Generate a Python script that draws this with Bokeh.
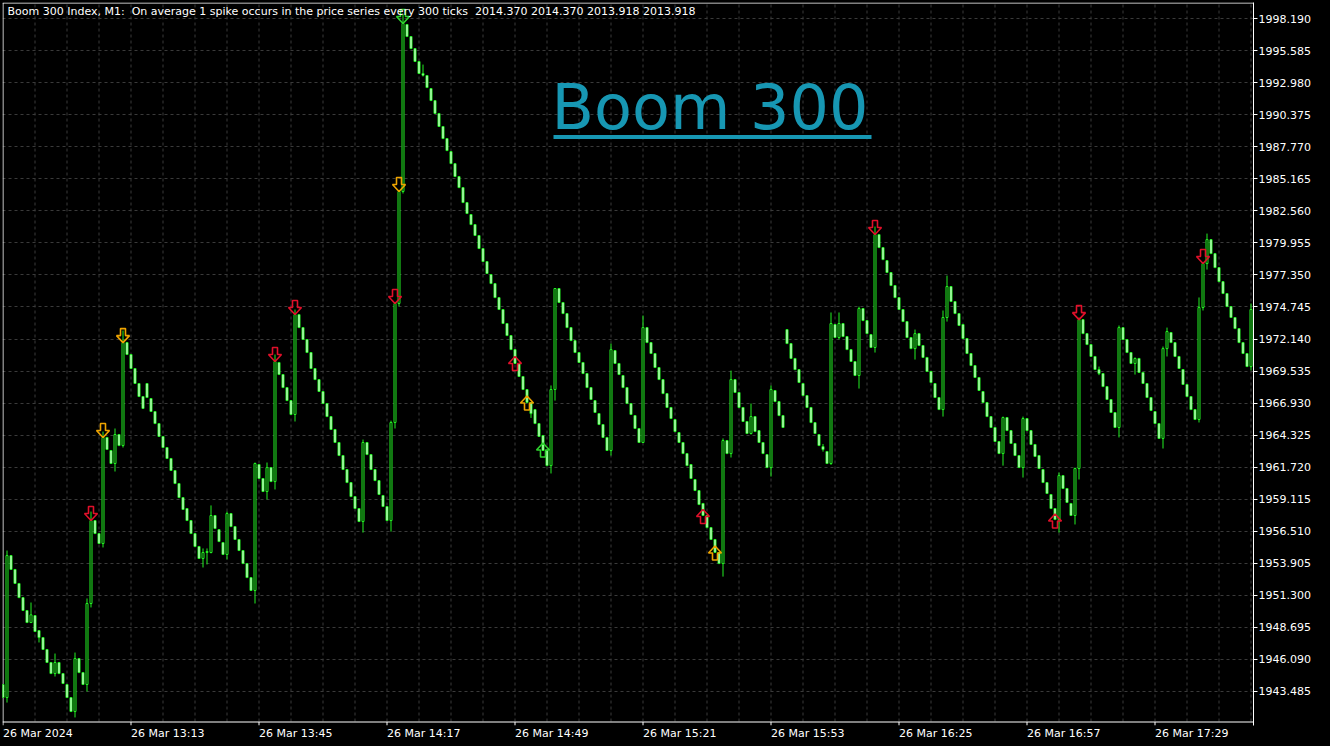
import numpy as np
from bokeh.plotting import figure
from bokeh.models import (Range1d, FixedTicker, Label, BoxAnnotation, ColumnDataSource,
                          PrintfTickFormatter, CustomJSTickFormatter)
from bokeh.embed import file_html
from bokeh.resources import INLINE

# ---------------- data (M1 candles, first one partly off-screen) ----------------
open_ = [
    1944.03, 1942.97, 1954.52, 1953.39, 1952.25, 1951.10, 1950.05, 1949.07, 1949.64, 1948.42,
    1947.85, 1946.88, 1945.82, 1944.92, 1945.82, 1944.92, 1944.03, 1942.97, 1941.83, 1946.14,
    1945.00, 1944.03, 1950.62, 1957.37, 1956.31, 1955.50, 1964.13, 1963.07, 1962.01, 1964.37,
    1963.47, 1971.85, 1970.88, 1969.74, 1968.52, 1967.46, 1968.52, 1967.30, 1966.24, 1965.26,
    1964.21, 1963.31, 1962.42, 1961.44, 1960.38, 1959.24, 1958.35, 1957.37, 1956.31, 1955.26,
    1954.28, 1954.77, 1954.77, 1957.78, 1956.63, 1955.58, 1954.61, 1957.94, 1956.88, 1955.83,
    1954.93, 1953.87, 1952.73, 1951.68, 1961.93, 1960.79, 1959.73, 1961.68, 1960.54, 1970.23,
    1969.25, 1968.19, 1967.13, 1966.00, 1974.13, 1973.07, 1972.10, 1971.04, 1969.74, 1968.84,
    1967.87, 1966.89, 1965.83, 1964.78, 1963.72, 1962.66, 1961.52, 1960.46, 1959.32, 1958.35,
    1957.29, 1963.72, 1962.74, 1961.52, 1960.62, 1959.41, 1958.51, 1957.37, 1965.35, 1975.03,
    1984.14, 1997.73, 1996.75, 1995.77, 1994.72, 1993.74, 1993.58, 1992.52, 1991.54, 1990.49,
    1989.43, 1988.45, 1987.39, 1986.41, 1985.36, 1984.46, 1983.24, 1982.27, 1981.45, 1980.56,
    1979.50, 1978.44, 1977.39, 1976.65, 1975.51, 1974.54, 1973.40, 1972.42, 1971.28, 1970.15,
    1969.09, 1968.03, 1966.97, 1966.40, 1965.26, 1964.29, 1963.07, 1961.84, 1968.03, 1976.25,
    1975.11, 1974.21, 1973.07, 1972.01, 1971.04, 1970.23, 1969.33, 1968.19, 1967.13, 1966.08,
    1965.18, 1964.13, 1963.07, 1971.20, 1970.15, 1969.17, 1968.19, 1966.89, 1965.91, 1964.86,
    1963.72, 1973.07, 1971.85, 1970.96, 1969.82, 1968.84, 1967.70, 1966.57, 1965.59, 1964.53,
    1963.72, 1962.82, 1961.93, 1960.71, 1959.81, 1958.76, 1957.78, 1956.80, 1955.83, 1954.77,
    1953.87, 1963.88, 1962.82, 1968.84, 1967.79, 1966.57, 1965.43, 1964.45, 1965.83, 1964.69,
    1963.72, 1962.74, 1961.68, 1967.95, 1967.05, 1965.91, 1972.91, 1971.77, 1970.56, 1969.65,
    1968.52, 1967.54, 1966.57, 1965.34, 1964.37, 1963.39, 1962.99, 1962.01, 1973.32, 1972.26,
    1973.40, 1972.34, 1971.28, 1970.31, 1969.17, 1974.62, 1973.64, 1972.50, 1971.45, 1980.64,
    1979.58, 1978.52, 1977.55, 1976.49, 1975.51, 1974.54, 1973.56, 1972.26, 1971.36, 1972.58,
    1971.61, 1970.64, 1969.50, 1968.52, 1967.38, 1966.40, 1973.89, 1976.41, 1975.19, 1974.21,
    1973.32, 1972.18, 1970.96, 1969.98, 1969.01, 1967.87, 1966.97, 1965.83, 1964.94, 1963.80,
    1962.82, 1965.75, 1964.69, 1963.64, 1962.66, 1961.68, 1965.67, 1964.69, 1963.56, 1962.66,
    1961.52, 1960.46, 1959.49, 1958.35, 1957.45, 1961.03, 1959.98, 1958.76, 1957.78, 1961.60,
    1973.72, 1972.58, 1971.69, 1970.72, 1969.66, 1969.33, 1968.27, 1967.22, 1966.16, 1964.94,
    1973.07, 1972.10, 1971.04, 1970.15, 1970.56, 1969.42, 1968.52, 1967.38, 1966.24, 1965.26,
    1964.05, 1971.36, 1972.67, 1971.85, 1970.72, 1969.66, 1968.44, 1967.46, 1966.40, 1965.59,
    1974.70, 1978.28, 1980.23, 1979.09, 1977.95, 1976.81, 1975.84, 1974.78, 1973.89, 1972.99,
    1971.85, 1970.96, 1969.90,
]
close_ = [
    1942.97, 1954.52, 1953.39, 1952.25, 1951.10, 1950.05, 1949.07, 1949.70, 1948.34, 1947.85,
    1946.88, 1945.82, 1944.92, 1945.82, 1944.92, 1944.11, 1942.97, 1941.83, 1946.14, 1945.00,
    1944.03, 1950.62, 1957.37, 1956.31, 1955.50, 1964.13, 1963.15, 1962.01, 1964.37, 1963.47,
    1971.85, 1970.88, 1969.74, 1968.52, 1967.46, 1966.49, 1967.38, 1966.24, 1965.26, 1964.21,
    1963.31, 1962.42, 1961.44, 1960.38, 1959.24, 1958.27, 1957.37, 1956.31, 1955.26, 1954.28,
    1954.77, 1954.85, 1957.78, 1956.72, 1955.66, 1954.61, 1957.94, 1956.88, 1955.83, 1954.93,
    1953.87, 1952.73, 1951.68, 1962.01, 1960.79, 1959.73, 1961.68, 1960.54, 1970.31, 1969.25,
    1968.19, 1967.13, 1966.00, 1974.13, 1973.07, 1972.10, 1971.04, 1969.74, 1968.84, 1967.87,
    1966.89, 1965.83, 1964.78, 1963.72, 1962.66, 1961.52, 1960.46, 1959.32, 1958.35, 1957.29,
    1963.72, 1962.74, 1961.52, 1960.62, 1959.49, 1958.51, 1957.37, 1965.35, 1975.03, 1984.14,
    1997.81, 1996.75, 1995.77, 1994.72, 1993.74, 1993.60, 1992.60, 1991.54, 1990.49, 1989.43,
    1988.45, 1987.47, 1986.41, 1985.36, 1984.46, 1983.24, 1982.35, 1981.45, 1980.56, 1979.50,
    1978.44, 1977.47, 1976.65, 1975.51, 1974.54, 1973.40, 1972.42, 1971.28, 1970.15, 1969.09,
    1968.03, 1966.97, 1966.07, 1965.26, 1964.21, 1963.07, 1961.84, 1968.03, 1976.25, 1975.11,
    1974.21, 1973.07, 1972.01, 1971.04, 1970.23, 1969.33, 1968.19, 1967.22, 1966.16, 1965.18,
    1964.13, 1963.07, 1971.28, 1970.15, 1969.25, 1968.19, 1966.89, 1966.00, 1964.86, 1963.72,
    1973.07, 1971.85, 1970.96, 1969.82, 1968.84, 1967.70, 1966.57, 1965.67, 1964.61, 1963.72,
    1962.82, 1961.84, 1960.79, 1959.81, 1958.67, 1957.78, 1956.80, 1955.83, 1954.77, 1953.87,
    1963.88, 1962.82, 1968.84, 1967.79, 1966.57, 1965.43, 1964.45, 1965.83, 1964.61, 1963.72,
    1962.82, 1961.68, 1968.03, 1967.05, 1965.91, 1964.94, 1971.77, 1970.56, 1969.65, 1968.60,
    1967.54, 1966.57, 1965.34, 1964.45, 1963.47, 1963.15, 1962.01, 1973.40, 1972.26, 1973.40,
    1972.34, 1971.28, 1970.31, 1969.17, 1974.62, 1973.64, 1972.58, 1971.45, 1980.64, 1979.58,
    1978.60, 1977.55, 1976.49, 1975.51, 1974.54, 1973.56, 1972.26, 1971.36, 1972.58, 1971.61,
    1970.64, 1969.50, 1968.60, 1967.38, 1966.40, 1973.89, 1976.41, 1975.19, 1974.21, 1973.24,
    1972.18, 1970.96, 1969.98, 1969.01, 1967.95, 1966.97, 1965.83, 1964.94, 1963.80, 1962.82,
    1965.75, 1964.69, 1963.64, 1962.66, 1961.68, 1965.67, 1964.69, 1963.56, 1962.58, 1961.60,
    1960.46, 1959.57, 1958.35, 1957.45, 1961.03, 1959.98, 1958.84, 1957.78, 1961.60, 1973.72,
    1972.58, 1971.69, 1970.72, 1969.66, 1969.33, 1968.27, 1967.22, 1966.16, 1964.94, 1973.07,
    1972.10, 1971.04, 1970.15, 1970.56, 1969.42, 1968.52, 1967.38, 1966.32, 1965.26, 1964.05,
    1971.36, 1972.75, 1971.85, 1970.72, 1969.74, 1968.44, 1967.46, 1966.40, 1965.59, 1974.70,
    1978.28, 1980.23, 1979.09, 1977.95, 1976.81, 1975.84, 1974.78, 1973.89, 1972.99, 1971.85,
    1970.96, 1969.90, 1974.54,
]
high_ = [
    1944.03, 1954.93, 1954.52, 1953.39, 1952.25, 1951.10, 1950.05, 1950.70, 1949.64, 1948.42,
    1947.85, 1946.88, 1945.82, 1946.55, 1945.82, 1944.92, 1944.03, 1942.97, 1946.63, 1946.14,
    1945.00, 1951.03, 1958.10, 1957.37, 1956.31, 1964.61, 1964.13, 1963.07, 1964.86, 1964.37,
    1972.83, 1971.85, 1970.88, 1969.74, 1968.52, 1967.46, 1968.52, 1967.30, 1966.24, 1965.26,
    1964.21, 1963.31, 1962.42, 1961.44, 1960.38, 1959.24, 1958.35, 1957.37, 1956.31, 1955.26,
    1955.10, 1955.10, 1958.60, 1957.78, 1956.63, 1955.58, 1958.10, 1957.94, 1956.88, 1955.83,
    1954.93, 1953.87, 1952.73, 1962.09, 1961.93, 1960.79, 1962.09, 1961.68, 1970.88, 1970.23,
    1969.25, 1968.19, 1967.13, 1974.54, 1974.13, 1973.07, 1972.10, 1971.04, 1969.74, 1968.84,
    1967.87, 1966.89, 1965.83, 1964.78, 1963.72, 1962.66, 1961.52, 1960.46, 1959.32, 1958.35,
    1963.96, 1963.72, 1962.74, 1961.52, 1960.62, 1959.41, 1958.51, 1965.50, 1975.03, 1984.14,
    1998.60, 1997.73, 1996.75, 1995.77, 1994.72, 1994.47, 1993.58, 1992.52, 1991.54, 1990.49,
    1989.43, 1988.45, 1987.39, 1986.41, 1985.36, 1984.46, 1983.24, 1982.27, 1981.45, 1980.56,
    1979.50, 1978.44, 1977.39, 1976.65, 1975.51, 1974.54, 1973.40, 1972.42, 1971.28, 1970.15,
    1969.09, 1968.03, 1966.97, 1966.40, 1965.26, 1964.29, 1963.07, 1968.36, 1976.25, 1976.25,
    1975.11, 1974.21, 1973.07, 1972.01, 1971.04, 1970.23, 1969.33, 1968.19, 1967.13, 1966.08,
    1965.18, 1964.13, 1971.77, 1971.20, 1970.15, 1969.17, 1968.19, 1966.89, 1965.91, 1964.86,
    1974.05, 1973.07, 1971.85, 1970.96, 1969.82, 1968.84, 1967.70, 1966.57, 1965.59, 1964.53,
    1963.72, 1962.82, 1961.93, 1960.71, 1959.81, 1958.76, 1957.78, 1956.80, 1955.83, 1954.77,
    1964.05, 1963.88, 1969.57, 1968.84, 1967.79, 1966.57, 1965.43, 1966.89, 1965.83, 1964.69,
    1963.72, 1962.74, 1968.36, 1967.95, 1967.05, 1965.91, 1972.91, 1971.77, 1970.56, 1969.65,
    1968.52, 1967.54, 1966.57, 1965.34, 1964.37, 1963.60, 1962.99, 1974.30, 1973.32, 1974.30,
    1973.40, 1972.34, 1971.28, 1970.31, 1974.78, 1974.62, 1973.64, 1972.50, 1981.29, 1980.64,
    1979.58, 1978.52, 1977.55, 1976.49, 1975.51, 1974.54, 1973.56, 1972.26, 1972.91, 1972.58,
    1971.61, 1970.64, 1969.50, 1968.52, 1967.38, 1974.46, 1977.30, 1976.41, 1975.19, 1974.21,
    1973.32, 1972.18, 1970.96, 1969.98, 1969.01, 1967.87, 1966.97, 1965.83, 1964.94, 1963.80,
    1965.83, 1965.75, 1964.69, 1963.64, 1962.66, 1965.83, 1965.67, 1964.69, 1963.56, 1962.66,
    1961.52, 1960.46, 1959.49, 1958.35, 1961.28, 1961.03, 1959.98, 1958.76, 1961.68, 1973.89,
    1973.72, 1972.58, 1971.69, 1970.72, 1969.90, 1969.33, 1968.27, 1967.22, 1966.16, 1973.24,
    1973.07, 1972.10, 1971.04, 1970.64, 1970.56, 1969.42, 1968.52, 1967.38, 1966.24, 1965.26,
    1971.53, 1973.07, 1972.67, 1971.85, 1970.72, 1969.66, 1968.44, 1967.46, 1966.40, 1975.52,
    1978.28, 1980.72, 1980.23, 1979.09, 1977.95, 1976.81, 1975.84, 1974.78, 1973.89, 1972.99,
    1971.85, 1970.96, 1975.03,
]
low_ = [
    1942.97, 1942.56, 1953.39, 1952.25, 1951.10, 1950.05, 1949.07, 1949.07, 1948.34, 1947.45,
    1946.88, 1945.82, 1944.92, 1944.68, 1944.92, 1944.11, 1942.97, 1941.83, 1941.35, 1945.00,
    1944.03, 1943.46, 1950.30, 1956.31, 1955.50, 1955.18, 1963.15, 1962.01, 1961.36, 1963.47,
    1963.31, 1970.88, 1969.74, 1968.52, 1967.46, 1966.49, 1967.38, 1966.24, 1965.26, 1964.21,
    1963.31, 1962.42, 1961.44, 1960.38, 1959.24, 1958.27, 1957.37, 1956.31, 1955.26, 1954.28,
    1953.55, 1953.80, 1954.70, 1956.72, 1955.66, 1954.61, 1954.20, 1956.88, 1955.83, 1954.93,
    1953.87, 1952.73, 1951.68, 1950.62, 1960.79, 1959.73, 1959.08, 1960.54, 1959.90, 1969.25,
    1968.19, 1967.13, 1966.00, 1965.43, 1973.07, 1972.10, 1971.04, 1969.74, 1968.84, 1967.87,
    1966.89, 1965.83, 1964.78, 1963.72, 1962.66, 1961.52, 1960.46, 1959.32, 1958.35, 1957.29,
    1956.39, 1962.74, 1961.52, 1960.62, 1959.49, 1958.51, 1957.37, 1956.47, 1964.86, 1974.80,
    1983.98, 1996.75, 1995.77, 1994.72, 1993.74, 1993.50, 1992.60, 1991.54, 1990.49, 1989.43,
    1988.45, 1987.47, 1986.41, 1985.36, 1984.46, 1983.24, 1982.35, 1981.45, 1980.56, 1979.50,
    1978.44, 1977.47, 1976.65, 1975.51, 1974.54, 1973.40, 1972.42, 1971.28, 1970.15, 1969.09,
    1968.03, 1966.97, 1965.72, 1965.26, 1964.21, 1963.07, 1961.84, 1961.20, 1967.13, 1975.11,
    1974.21, 1973.07, 1972.01, 1971.04, 1970.23, 1969.33, 1968.19, 1967.22, 1966.16, 1965.18,
    1964.13, 1963.07, 1962.66, 1970.15, 1969.25, 1968.19, 1966.89, 1966.00, 1964.86, 1963.72,
    1963.72, 1971.85, 1970.96, 1969.82, 1968.84, 1967.70, 1966.57, 1965.67, 1964.61, 1963.72,
    1962.82, 1961.84, 1960.79, 1959.81, 1958.67, 1957.78, 1956.80, 1955.83, 1954.77, 1953.87,
    1952.81, 1962.82, 1962.50, 1967.79, 1966.57, 1965.43, 1964.45, 1964.37, 1964.61, 1963.72,
    1962.82, 1961.68, 1960.95, 1967.05, 1965.91, 1964.94, 1971.77, 1970.56, 1969.65, 1968.60,
    1967.54, 1966.57, 1965.34, 1964.45, 1963.47, 1962.98, 1962.01, 1961.90, 1972.26, 1972.10,
    1972.34, 1971.28, 1970.31, 1969.17, 1968.11, 1973.64, 1972.58, 1971.45, 1971.04, 1979.58,
    1978.60, 1977.55, 1976.49, 1975.51, 1974.54, 1973.56, 1972.26, 1971.36, 1970.47, 1971.61,
    1970.64, 1969.50, 1968.60, 1967.38, 1966.40, 1965.83, 1973.56, 1975.19, 1974.21, 1973.24,
    1972.18, 1970.96, 1969.98, 1969.01, 1967.95, 1966.97, 1965.83, 1964.94, 1963.80, 1962.82,
    1961.84, 1964.69, 1963.64, 1962.66, 1961.68, 1960.87, 1964.69, 1963.56, 1962.58, 1961.60,
    1960.46, 1959.57, 1958.35, 1957.45, 1956.39, 1959.98, 1958.84, 1957.78, 1957.05, 1960.71,
    1972.58, 1971.69, 1970.72, 1969.66, 1969.20, 1968.27, 1967.22, 1966.16, 1964.94, 1964.13,
    1972.10, 1971.04, 1970.15, 1969.25, 1969.42, 1968.52, 1967.38, 1966.32, 1965.26, 1964.05,
    1963.23, 1970.72, 1971.85, 1970.72, 1969.74, 1968.44, 1967.46, 1966.40, 1965.59, 1965.35,
    1974.46, 1977.79, 1979.09, 1977.95, 1976.81, 1975.84, 1974.78, 1973.89, 1972.99, 1971.85,
    1970.96, 1969.90, 1969.58,
]

xtick_idx = [-1, 31, 63, 95, 127, 159, 191, 223, 255, 287]
xtick_labels = ["26 Mar 2024", "26 Mar 13:13", "26 Mar 13:45", "26 Mar 14:17", "26 Mar 14:49",
                "26 Mar 15:21", "26 Mar 15:53", "26 Mar 16:25", "26 Mar 16:57", "26 Mar 17:29"]
yticks = [1943.485, 1946.090, 1948.695, 1951.300, 1953.905, 1956.510, 1959.115, 1961.720,
          1964.325, 1966.930, 1969.535, 1972.140, 1974.745, 1977.350, 1979.955, 1982.560,
          1985.165, 1987.770, 1990.375, 1992.980, 1995.585, 1998.190]

down_arrow_idx = [21, 24, 29, 67, 72, 97, 98, 99, 217, 268, 299]
down_arrow_kind = ["red", "orange", "orange", "red", "red", "red", "orange", "green", "red", "red", "red"]
up_arrow_idx = [127, 130, 134, 174, 177, 262]
up_arrow_kind = ["red", "orange", "green", "red", "orange", "red"]

header_text = ("Boom 300 Index, M1:\u00a0 On average 1 spike occurs in the price series every 300 ticks\u00a0 "
               "2014.370 2014.370 2013.918 2013.918")
big_text = "Boom 300"

# ---------------- styling ----------------
W, H = 1330, 746
FL, FT, FR = 2, 2, 1253        # frame edges in px
AXY = 721                      # px row of the time axis line
FB = 725                       # frame bottom (tick marks live between AXY and FB)
X0, X1 = -1.125, 311.625
Y1 = 1999.52
sy = 58.5 / 719                # price per px
Y0 = Y1 - (FB - FT) * sy
GREEN = "#22f022"
GRID = "#3a3a3a"
ARROW_COL = {"red": "#e0102a", "orange": "#eea400", "green": "#2ed22e"}
FONT = "DejaVu Sans"
FS = 11
ADV = {" ": 0.318, "M": 0.863, "a": 0.613, "r": 0.411, ":": 0.337}   # DejaVu Sans advances (em)

sx = (X1 - X0) / (FR - FL)
def px_x(px):
    return X0 + (px - FL) * sx
def px_y(py):
    return Y1 - (py - FT) * sy
def text_w(s):
    return sum(ADV.get(ch, 0.636) for ch in s) * FS

p = figure(width=W, height=H, x_range=Range1d(X0, X1), y_range=Range1d(Y0, Y1),
           y_axis_location="right", output_backend="svg", toolbar_location=None,
           background_fill_color="black", border_fill_color="black",
           min_border_left=FL, min_border_top=FT, min_border_right=W - FR, min_border_bottom=H - FB)
p.outline_line_color = None

# grid: horizontal from the price axis, vertical drawn down to the time axis line
p.xgrid.visible = False
p.ygrid.ticker = FixedTicker(ticks=yticks)
p.ygrid.grid_line_color = GRID
p.ygrid.grid_line_dash = "3 3"
vg = list(range(7, 312, 8))
p.segment(x0=vg, y0=[px_y(AXY)] * len(vg), x1=vg, y1=[Y1] * len(vg),
          line_color=GRID, line_dash="3 3", line_width=1)

# frame border (top, left) and time axis line + tick marks
p.segment(x0=[X0, px_x(2.5), X0], y0=[px_y(2.5), px_y(2.5), px_y(AXY + 0.5)],
          x1=[X1, px_x(2.5), X1], y1=[px_y(2.5), px_y(AXY + 0.5), px_y(AXY + 0.5)],
          line_color="white", line_width=1)
p.segment(x0=xtick_idx, y0=[px_y(AXY + 0.5)] * len(xtick_idx),
          x1=xtick_idx, y1=[Y0] * len(xtick_idx), line_color="white", line_width=1)

# price axis (right)
ya = p.yaxis[0]
ya.ticker = FixedTicker(ticks=yticks)
ya.formatter = PrintfTickFormatter(format="%.3f")
ya.axis_line_color = "white"
ya.major_tick_line_color = "white"
ya.major_tick_out = 4
ya.major_tick_in = 0
ya.minor_tick_line_color = None
ya.major_label_text_color = "white"
ya.major_label_text_font = FONT
ya.major_label_text_font_size = "%dpx" % FS
ya.major_label_standoff = 1

# time axis labels: placed half their width right of each tick -> left aligned at tick
centers = [k + text_w(t) / 2 * sx for k, t in zip(xtick_idx, xtick_labels)]
xa = p.xaxis[0]
xa.ticker = FixedTicker(ticks=centers)
xa.formatter = CustomJSTickFormatter(args=dict(labels=xtick_labels), code="return labels[index];")
xa.axis_line_color = None
xa.major_tick_line_color = None
xa.major_tick_out = 0
xa.major_tick_in = 0
xa.minor_tick_line_color = None
xa.major_label_text_color = "white"
xa.major_label_text_font = FONT
xa.major_label_text_font_size = "%dpx" % FS
xa.major_label_standoff = 1

# candles
n = len(open_)
idx = np.arange(n) - 1
o = np.array(open_); c = np.array(close_); h = np.array(high_); l = np.array(low_)
src = ColumnDataSource(dict(
    x=idx, top=np.maximum(o, c), bottom=np.minimum(o, c), high=h, low=l,
    fill=["black" if cc > oo else "white" for oo, cc in zip(o, c)],
))
p.segment(x0="x", y0="low", x1="x", y1="high", source=src, line_color=GREEN, line_width=1)
p.vbar(x="x", width=0.5, top="top", bottom="bottom", source=src,
       fill_color="fill", line_color=GREEN, line_width=1)

# arrow markers (outlined block arrows)
shape = [(0, 0), (6.5, 7), (2.5, 7), (2.5, 14), (-2.5, 14), (-2.5, 7), (-6.5, 7)]
axs, ays, acol = [], [], []
for k, kind in zip(down_arrow_idx, down_arrow_kind):
    i = k + 1
    tip = close_[i]
    axs.append([k + dx * sx for dx, dy in shape])
    ays.append([tip + dy * sy for dx, dy in shape])
    acol.append(ARROW_COL[kind])
for k, kind in zip(up_arrow_idx, up_arrow_kind):
    i = k + 1
    tip = (open_[i] + close_[i]) / 2
    axs.append([k + dx * sx for dx, dy in shape])
    ays.append([tip - dy * sy for dx, dy in shape])
    acol.append(ARROW_COL[kind])
p.patches(xs="xs", ys="ys", source=ColumnDataSource(dict(xs=axs, ys=ays, col=acol)),
          fill_alpha=0, line_color="col", line_width=1.6)

# header text
p.add_layout(Label(x=px_x(7), y=px_y(10.5), text=header_text, text_color="white",
                   text_font=FONT, text_font_size="%dpx" % FS, text_baseline="alphabetic"))

# big underlined label
p.add_layout(Label(x=px_x(551), y=px_y(106.5), text=big_text, text_color="#1797b3",
                   text_font=FONT, text_font_size="62px", text_baseline="alphabetic"))
p.add_layout(BoxAnnotation(left=px_x(553), right=px_x(871), top=px_y(134.5), bottom=px_y(138.5),
                           fill_color="#1797b3", fill_alpha=1, line_alpha=0))

template = """
{% block postamble %}
<style>html, body { margin: 0 !important; padding: 0 !important; background: #000000; overflow: hidden; }</style>
{% endblock %}
"""
html = file_html(p, INLINE, title="Boom 300", template=template)
open("out.html", "w").write(html)
